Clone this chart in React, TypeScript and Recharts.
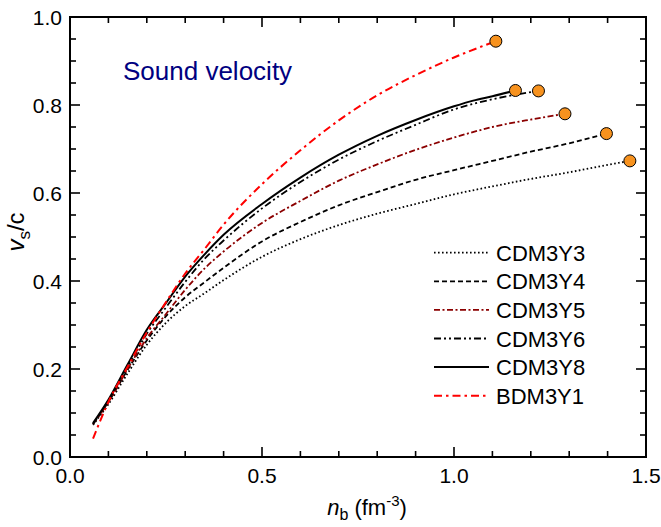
import { ComposedChart, Label, Legend, Line, Scatter, XAxis, YAxis } from 'recharts';

const FONT = '"Liberation Sans", Arial, sans-serif';

// baryon density n_b (fm^-3) and sound velocity v_s/c for each interaction
const nbCDM3Y3 = [0.06, 0.1, 0.15, 0.2, 0.25, 0.3, 0.35, 0.4, 0.5, 0.6, 0.7, 0.8, 0.9, 1.0, 1.1, 1.2, 1.3, 1.4, 1.458];
const vsCDM3Y3 = [0.073, 0.12, 0.19, 0.255, 0.305, 0.343, 0.372, 0.402, 0.455, 0.495, 0.527, 0.553, 0.575, 0.597, 0.615, 0.632, 0.647, 0.664, 0.673];

const nbCDM3Y4 = [0.06, 0.1, 0.15, 0.2, 0.25, 0.3, 0.35, 0.4, 0.5, 0.6, 0.7, 0.8, 0.9, 1.0, 1.1, 1.2, 1.3, 1.397];
const vsCDM3Y4 = [0.075, 0.125, 0.198, 0.265, 0.32, 0.363, 0.397, 0.43, 0.49, 0.534, 0.572, 0.602, 0.63, 0.652, 0.673, 0.694, 0.713, 0.735];

const nbCDM3Y5 = [0.06, 0.1, 0.15, 0.2, 0.25, 0.3, 0.35, 0.4, 0.5, 0.6, 0.7, 0.8, 0.9, 1.0, 1.1, 1.2, 1.289];
const vsCDM3Y5 = [0.075, 0.125, 0.2, 0.27, 0.325, 0.38, 0.428, 0.467, 0.532, 0.582, 0.628, 0.665, 0.698, 0.726, 0.75, 0.767, 0.78];

const nbCDM3Y6 = [0.06, 0.1, 0.15, 0.2, 0.25, 0.3, 0.35, 0.4, 0.5, 0.6, 0.7, 0.8, 0.9, 1.0, 1.1, 1.22];
const vsCDM3Y6 = [0.075, 0.128, 0.205, 0.28, 0.34, 0.398, 0.45, 0.492, 0.565, 0.625, 0.676, 0.718, 0.755, 0.79, 0.813, 0.832];

const nbCDM3Y8 = [0.06, 0.1, 0.15, 0.2, 0.25, 0.3, 0.35, 0.4, 0.5, 0.6, 0.7, 0.8, 0.9, 1.0, 1.05, 1.1, 1.16];
const vsCDM3Y8 = [0.077, 0.13, 0.21, 0.289, 0.35, 0.41, 0.46, 0.505, 0.575, 0.635, 0.687, 0.73, 0.766, 0.797, 0.81, 0.82, 0.833];

const nbBDM3Y1 = [0.06, 0.1, 0.15, 0.2, 0.25, 0.3, 0.35, 0.4, 0.5, 0.6, 0.7, 0.8, 0.9, 1.0, 1.109];
const vsBDM3Y1 = [0.042, 0.125, 0.205, 0.283, 0.352, 0.417, 0.472, 0.528, 0.62, 0.697, 0.765, 0.822, 0.868, 0.908, 0.945];

const xTicks = [0, 0.1, 0.2, 0.3, 0.4, 0.5, 0.6, 0.7, 0.8, 0.9, 1.0, 1.1, 1.2, 1.3, 1.4, 1.5];
const yTicks = [0, 0.05, 0.1, 0.15, 0.2, 0.25, 0.3, 0.35, 0.4, 0.45, 0.5, 0.55, 0.6, 0.65, 0.7, 0.75, 0.8, 0.85, 0.9, 0.95, 1.0];

const zip = (xs: number[], ys: number[]) => xs.map((x, i) => ({ x, y: ys[i] }));

const series = [
  { name: 'CDM3Y3', data: zip(nbCDM3Y3, vsCDM3Y3), color: '#000', dash: '1.6 2.4', width: 1.8 },
  { name: 'CDM3Y4', data: zip(nbCDM3Y4, vsCDM3Y4), color: '#000', dash: '5 3', width: 1.8 },
  { name: 'CDM3Y5', data: zip(nbCDM3Y5, vsCDM3Y5), color: '#8B0000', dash: '6 2.5 2 2.5', width: 1.8 },
  { name: 'CDM3Y6', data: zip(nbCDM3Y6, vsCDM3Y6), color: '#000', dash: '7 3 2 3 2 3', width: 1.8 },
  { name: 'CDM3Y8', data: zip(nbCDM3Y8, vsCDM3Y8), color: '#000', dash: undefined, width: 2 },
  { name: 'BDM3Y1', data: zip(nbBDM3Y1, vsBDM3Y1), color: '#FF0000', dash: '8 4 2.5 4', width: 2 },
];

const endPoints = series.map((s) => s.data[s.data.length - 1]);

const W = 661;
const H = 527;
const M = { top: 17, right: 15, bottom: 0, left: 0 };
const PLOT_LEFT = 70;
const PLOT_TOP = M.top;
const PLOT_RIGHT = W - M.right;
const PLOT_BOTTOM = 457;

const isMajor = (v: number, step: number) => Math.abs(v / step - Math.round(v / step)) < 1e-6;

// bottom tick with its twin on the top edge; the first tick also draws the top and bottom frame
function XTick({ x, y, payload }: any) {
  const len = isMajor(payload.value, 0.5) ? 10 : 6;
  return (
    <g>
      {payload.value === 0 && (
        <g>
          <line x1={PLOT_LEFT - 1} y1={PLOT_BOTTOM} x2={PLOT_RIGHT + 1} y2={PLOT_BOTTOM} stroke="#000" strokeWidth={2} />
          <line x1={PLOT_LEFT - 1} y1={PLOT_TOP} x2={PLOT_RIGHT + 1} y2={PLOT_TOP} stroke="#000" strokeWidth={2} />
        </g>
      )}
      <line x1={x} y1={y} x2={x} y2={y - len} stroke="#000" strokeWidth={1.6} />
      <line x1={x} y1={PLOT_TOP} x2={x} y2={PLOT_TOP + len} stroke="#000" strokeWidth={1.6} />
      {len === 10 && (
        <text x={x} y={y + 26} textAnchor="middle" fontSize={21} fontFamily={FONT} fill="#000">
          {payload.value.toFixed(1)}
        </text>
      )}
    </g>
  );
}

// left tick with its twin on the right edge; the first tick also draws the left and right frame
function YTick({ x, y, payload }: any) {
  const len = isMajor(payload.value, 0.2) ? 10 : 6;
  return (
    <g>
      {payload.value === 0 && (
        <g>
          <line x1={PLOT_LEFT} y1={PLOT_TOP} x2={PLOT_LEFT} y2={PLOT_BOTTOM} stroke="#000" strokeWidth={2} />
          <line x1={PLOT_RIGHT} y1={PLOT_TOP} x2={PLOT_RIGHT} y2={PLOT_BOTTOM} stroke="#000" strokeWidth={2} />
        </g>
      )}
      <line x1={x} y1={y} x2={x + len} y2={y} stroke="#000" strokeWidth={1.6} />
      <line x1={PLOT_RIGHT} y1={y} x2={PLOT_RIGHT - len} y2={y} stroke="#000" strokeWidth={1.6} />
      {len === 10 && (
        <text x={x - 8} y={y + 7.5} textAnchor="end" fontSize={21} fontFamily={FONT} fill="#000">
          {payload.value.toFixed(1)}
        </text>
      )}
    </g>
  );
}

const renderXTitle = () => (
  <text x={367} y={515} textAnchor="middle" fontSize={22} fontFamily={FONT} fill="#000">
    <tspan fontStyle="italic">n</tspan>
    <tspan fontSize={16} dy={5}>b</tspan>
    <tspan dy={-5}> (fm</tspan>
    <tspan fontSize={15} dy={-9}>-3</tspan>
    <tspan dy={9}>)</tspan>
  </text>
);

const renderYTitle = () => (
  <text x={24} y={232} transform="rotate(-90 24 232)" textAnchor="middle" fontSize={24} fontFamily={FONT} fill="#000">
    <tspan fontStyle="italic">v</tspan>
    <tspan fontSize={17} dy={6}>s</tspan>
    <tspan dy={-6}>/c</tspan>
  </text>
);

const renderLegend = () => (
  <svg width={200} height={180}>
    {series.map((s, i) => {
      const y = 14.7 + 28.6 * i;
      return (
        <g key={s.name}>
          <line x1={4} y1={y} x2={59} y2={y} stroke={s.color} strokeWidth={s.width} strokeDasharray={s.dash} />
          <text x={66} y={y + 8} fontSize={22} fontFamily={FONT} fill="#000">
            {s.name}
          </text>
        </g>
      );
    })}
  </svg>
);

export default function App() {
  return (
    <div style={{ position: 'absolute', left: 0, top: 0 }}>
      <ComposedChart width={W} height={H} margin={M}>
        <XAxis
          dataKey="x"
          type="number"
          domain={[0, 1.5]}
          ticks={xTicks}
          interval={0}
          height={70}
          tickSize={0}
          tickMargin={0}
          tickLine={false}
          tick={<XTick />}
          axisLine={false}
          allowDataOverflow
        >
          <Label content={renderXTitle} />
        </XAxis>
        <YAxis
          type="number"
          domain={[0, 1]}
          ticks={yTicks}
          interval={0}
          width={70}
          tickSize={0}
          tickMargin={0}
          tickLine={false}
          tick={<YTick />}
          axisLine={false}
          allowDataOverflow
        >
          <Label content={renderYTitle} />
        </YAxis>
        {series.map((s) => (
          <Line
            key={s.name}
            data={s.data}
            dataKey="y"
            name={s.name}
            type="monotone"
            stroke={s.color}
            strokeWidth={s.width}
            strokeDasharray={s.dash}
            dot={false}
            activeDot={false}
            isAnimationActive={false}
          />
        ))}
        <Scatter
          data={endPoints}
          dataKey="y"
          fill="#F7921E"
          shape={(p: any) => <circle cx={p.cx} cy={p.cy} r={6} fill="#F7921E" stroke="#000" strokeWidth={1} />}
          isAnimationActive={false}
        />
        <Legend
          layout="vertical"
          align="center"
          verticalAlign="middle"
          wrapperStyle={{ left: 430, top: 238, width: 200 }}
          content={renderLegend}
        />
        <text x={123} y={80} fontSize={26} fontFamily={FONT} fill="#000080">
          Sound velocity
        </text>
      </ComposedChart>
    </div>
  );
}
